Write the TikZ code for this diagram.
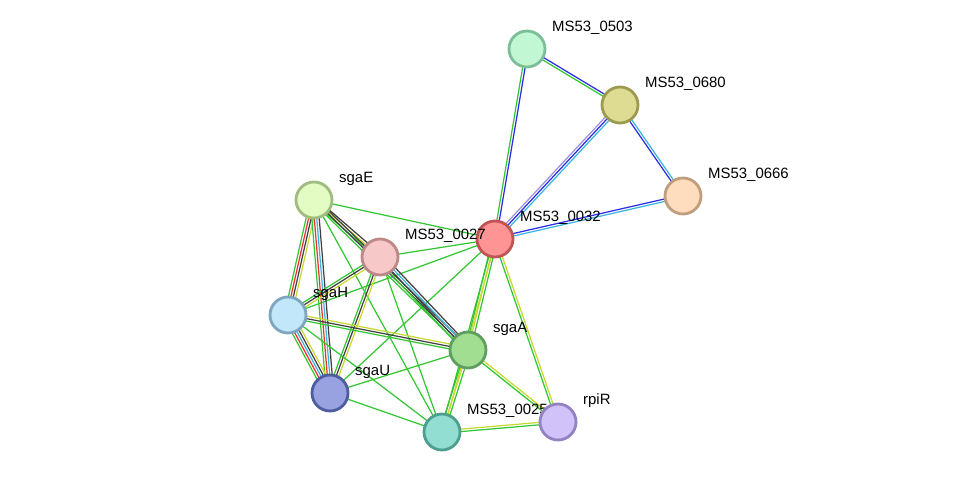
\documentclass[tikz,border=0pt]{standalone}
\usepackage{fontspec}
\setmainfont{Liberation Sans}
\usetikzlibrary{calc,backgrounds}

\definecolor{eGreen}{HTML}{33C633}
\definecolor{eYellow}{HTML}{C8D832}
\definecolor{eBlue}{HTML}{2B2BE8}
\definecolor{eCyan}{HTML}{3AB4E0}
\definecolor{eViolet}{HTML}{9F8FE0}
\definecolor{eRed}{HTML}{F03030}
\definecolor{eBlack}{HTML}{404040}

\begin{document}
\begin{tikzpicture}[%
    x=0.02cm, y=-0.02cm,        % pixel grid, y going down
    prot/.style={circle, draw, line width=1.6pt, minimum size=0.72cm, inner sep=0pt},
    lbl/.style={anchor=west, font=\fontsize{8.5}{10}\selectfont},
    edge/.style={line width=0.7pt},
    ]
\useasboundingbox (0,0) rectangle (975,479);
% -------------------------------------------------
% Proteins
\foreach \name/\x/\y/\fillc/\drawc/\txt in {%
    n0503/527/49/C2F7D3/7CBE97/MS53\_0503,
    n0680/620/105/DEDC92/9C9A50/MS53\_0680,
    n0666/683/196/FDDDBE/BE9E7C/MS53\_0666,
    n0032/495/239/FF9494/BE5454/MS53\_0032,
    sgaE/314/200/E2FCC4/A0BC80/sgaE,
    n0027/380/257/F7C8C8/BC8888/MS53\_0027,
    sgaH/288/315/C2E6FA/7EA6C0/sgaH,
    sgaA/468/350/A2DE92/5E9E5E/sgaA,
    sgaU/330/393/98A2E0/4E5CA0/sgaU,
    n0025/442/432/92DED2/4E9E90/MS53\_0025,
    rpiR/558/422/D2C2FA/9282C2/rpiR}
{
  \definecolor{f}{HTML}{\fillc}\definecolor{d}{HTML}{\drawc}
  \node [prot, fill=f, draw=d] (\name) at (\x,\y) {};
  \node [lbl] (\name-l) at (\x+19,\y-21) {\txt};
}
% -------------------------------------------------
% Evidence lines, drawn behind the proteins
\begin{pgfonlayer}{background}
\foreach \a/\b/\n/\cols in {%
    n0503/n0680/2/{eGreen,eBlue},
    n0503/n0032/2/{eGreen,eBlue},
    n0680/n0666/2/{eBlue,eCyan},
    n0680/n0032/3/{eViolet,eBlue,eCyan},
    n0666/n0032/2/{eBlue,eCyan},
    n0032/sgaE/1/{eGreen},
    n0032/n0027/1/{eGreen},
    n0032/sgaH/1/{eGreen},
    n0032/sgaU/1/{eGreen},
    n0032/sgaA/3/{eGreen,eYellow,eGreen},
    n0032/n0025/2/{eGreen,eYellow},
    n0032/rpiR/2/{eGreen,eYellow},
    sgaE/n0027/3/{eGreen,eYellow,eBlack},
    sgaE/sgaA/3/{eGreen,eBlack,eBlack},
    sgaE/sgaH/4/{eGreen,eRed,eBlack,eYellow},
    sgaE/sgaU/4/{eGreen,eRed,eCyan,eBlack},
    sgaE/n0025/1/{eGreen},
    n0027/sgaH/3/{eGreen,eBlack,eYellow},
    n0027/sgaU/3/{eGreen,eBlack,eYellow},
    n0027/sgaA/4/{eGreen,eBlack,eCyan,eBlack},
    n0027/n0025/1/{eGreen},
    sgaH/sgaU/5/{eGreen,eRed,eCyan,eBlack,eYellow},
    sgaH/sgaA/3/{eGreen,eBlack,eYellow},
    sgaH/n0025/1/{eGreen},
    sgaU/sgaA/1/{eGreen},
    sgaU/n0025/1/{eGreen},
    sgaA/n0025/3/{eGreen,eYellow,eGreen},
    sgaA/rpiR/2/{eGreen,eYellow},
    n0025/rpiR/2/{eGreen,eYellow}}
{
  \foreach \c [count=\i] in \cols
    \draw [edge, \c]
      ($(\a.center)!{(\i-(\n+1)/2)*1.4pt}!90:(\b.center)$) --
      ($(\b.center)!{(\i-(\n+1)/2)*1.4pt}!-90:(\a.center)$);
}
\end{pgfonlayer}
% -------------------------------------------------
\end{tikzpicture}
\end{document}
